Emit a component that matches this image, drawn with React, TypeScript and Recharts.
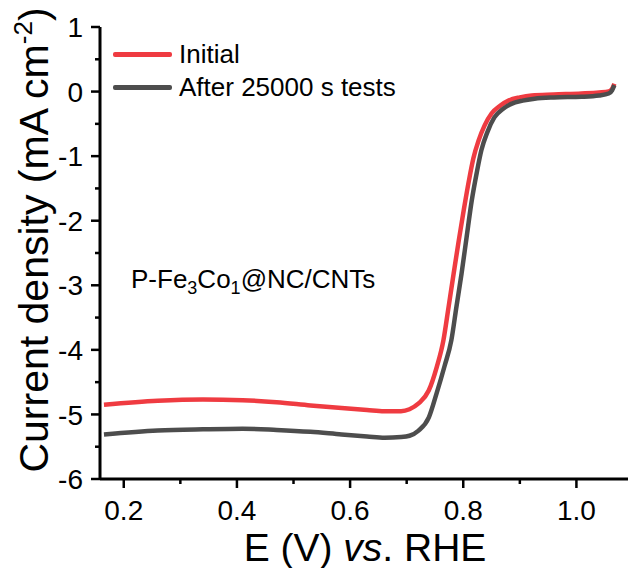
import { LineChart, Line, XAxis, YAxis, Legend } from 'recharts';

const seriesNames = ['Initial', 'After 25000 s tests'];

const initialE = [0.165, 0.26, 0.34, 0.41, 0.47, 0.53, 0.585, 0.63, 0.66, 0.69, 0.705, 0.721, 0.739, 0.753, 0.765, 0.774, 0.783, 0.792, 0.801, 0.81, 0.818, 0.827, 0.838, 0.85, 0.865, 0.88, 0.9, 0.921, 0.96, 1.009, 1.04, 1.057, 1.063, 1.067];
const initialJ = [-4.85, -4.79, -4.77, -4.78, -4.81, -4.86, -4.9, -4.93, -4.95, -4.95, -4.92, -4.83, -4.63, -4.27, -3.85, -3.34, -2.82, -2.31, -1.83, -1.38, -1.03, -0.76, -0.52, -0.34, -0.22, -0.14, -0.09, -0.06, -0.045, -0.03, -0.015, 0.0, 0.04, 0.12];

const afterE = [0.165, 0.26, 0.34, 0.41, 0.47, 0.53, 0.585, 0.63, 0.661, 0.69, 0.705, 0.721, 0.739, 0.753, 0.767, 0.779, 0.788, 0.797, 0.806, 0.815, 0.824, 0.832, 0.843, 0.855, 0.87, 0.885, 0.905, 0.926, 0.96, 1.009, 1.04, 1.057, 1.063, 1.067];
const afterJ = [-5.31, -5.25, -5.23, -5.22, -5.24, -5.27, -5.31, -5.34, -5.36, -5.35, -5.33, -5.25, -5.05, -4.67, -4.25, -3.85, -3.33, -2.82, -2.25, -1.69, -1.25, -0.91, -0.62, -0.4, -0.27, -0.19, -0.14, -0.11, -0.09, -0.08, -0.06, -0.03, 0.02, 0.1];

const xTicks = [0.2, 0.3, 0.4, 0.5, 0.6, 0.7, 0.8, 0.9, 1.0];
const xTickLabels = ['0.2', '', '0.4', '', '0.6', '', '0.8', '', '1.0'];
const yTicks = [-6, -5.5, -5, -4.5, -4, -3.5, -3, -2.5, -2, -1.5, -1, -0.5, 0, 0.5, 1];
const yTickLabels = ['-6', '', '-5', '', '-4', '', '-3', '', '-2', '', '-1', '', '0', '', '1'];

const FONT = '"Liberation Sans", Arial, sans-serif';
const RED = '#ef3b41';
const GRAY = '#4d4d4d';

const initialData = initialE.map((e, i) => ({ e, j: initialJ[i] }));
const afterData = afterE.map((e, i) => ({ e, j: afterJ[i] }));

function XTick(props: any) {
  const { x, y, payload } = props;
  const idx = xTicks.findIndex((t) => Math.abs(t - payload.value) < 1e-6);
  const label = xTickLabels[idx] || '';
  const major = label !== '';
  return (
    <g>
      <line x1={x} x2={x} y1={y} y2={y + (major ? 9 : 5)} stroke="#000" strokeWidth={2.5} />
      {major && (
        <text x={x} y={y + 41} textAnchor="middle" fontSize={28} fontFamily={FONT} fill="#000">
          {label}
        </text>
      )}
    </g>
  );
}

function YTick(props: any) {
  const { x, y, payload } = props;
  const idx = yTicks.findIndex((t) => Math.abs(t - payload.value) < 1e-6);
  const label = yTickLabels[idx] || '';
  const major = label !== '';
  return (
    <g>
      <line x1={x - (major ? 9 : 5)} x2={x} y1={y} y2={y} stroke="#000" strokeWidth={2.5} />
      {major && (
        <text x={x - 17} y={y} dy="0.36em" textAnchor="end" fontSize={28} fontFamily={FONT} fill="#000">
          {label}
        </text>
      )}
    </g>
  );
}

function LegendBox(props: any) {
  const items = [...(props.payload || [])].sort(
    (a: any, b: any) => seriesNames.indexOf(a.value) - seriesNames.indexOf(b.value)
  );
  return (
    <div style={{ fontFamily: FONT, fontSize: 26, color: '#000', textAlign: 'left' }}>
      {items.map((p: any) => (
        <div key={p.value} style={{ display: 'flex', alignItems: 'center', height: 33 }}>
          <div style={{ width: 59, height: 5, background: p.color, borderRadius: 2, marginRight: 7 }} />
          <span style={{ lineHeight: '33px', whiteSpace: 'nowrap' }}>{p.value}</span>
        </div>
      ))}
    </div>
  );
}

export default function App() {
  return (
    <div style={{ position: 'absolute', left: 0, top: 0, width: 628, height: 568, overflow: 'hidden', background: '#fff' }}>
      <LineChart width={640} height={568} margin={{ top: 27, right: 7, left: 0, bottom: 0 }}>
        <XAxis
          type="number"
          dataKey="e"
          domain={[0.158, 1.1]}
          ticks={xTicks}
          interval={0}
          allowDataOverflow
          height={89}
          tickSize={0}
          tickMargin={0}
          tickLine={false}
          tick={<XTick />}
          axisLine={{ stroke: '#000', strokeWidth: 3 }}
        />
        <XAxis
          xAxisId="top"
          orientation="top"
          type="number"
          dataKey="e"
          domain={[0.158, 1.1]}
          height={0}
          tick={false}
          tickLine={false}
          axisLine={{ stroke: '#000', strokeWidth: 3 }}
        />
        <YAxis
          type="number"
          dataKey="j"
          domain={[-6, 1]}
          ticks={yTicks}
          interval={0}
          width={100}
          tickSize={0}
          tickMargin={0}
          tickLine={false}
          tick={<YTick />}
          axisLine={{ stroke: '#000', strokeWidth: 3 }}
        />
        <Legend
          layout="horizontal"
          align="center"
          verticalAlign="middle"
          wrapperStyle={{ top: 38, left: 113, width: 'auto' }}
          content={<LegendBox />}
        />
        <Line
          data={initialData}
          dataKey="j"
          name={seriesNames[0]}
          type="monotone"
          stroke={RED}
          strokeWidth={4.5}
          dot={false}
          isAnimationActive={false}
        />
        <Line
          data={afterData}
          dataKey="j"
          name={seriesNames[1]}
          type="monotone"
          stroke={GRAY}
          strokeWidth={4.5}
          dot={false}
          isAnimationActive={false}
        />
        <text x={131} y={288} fontSize={26} fontFamily={FONT} fill="#000">
          P-Fe<tspan fontSize={18} dy={6}>3</tspan>
          <tspan dy={-6}>Co</tspan>
          <tspan fontSize={18} dy={6}>1</tspan>
          <tspan dy={-6}>@NC/CNTs</tspan>
        </text>
        <text x={365} y={561} textAnchor="middle" fontSize={39} fontFamily={FONT} fill="#000">
          E (V) <tspan fontStyle="italic">vs</tspan>. RHE
        </text>
        <text
          transform="translate(48, 240) rotate(-90)"
          textAnchor="middle"
          fontSize={41}
          fontFamily={FONT}
          fill="#000"
        >
          Current density (mA cm<tspan fontSize={26} dy={-16}>-2</tspan>
          <tspan dy={16}>)</tspan>
        </text>
      </LineChart>
    </div>
  );
}
